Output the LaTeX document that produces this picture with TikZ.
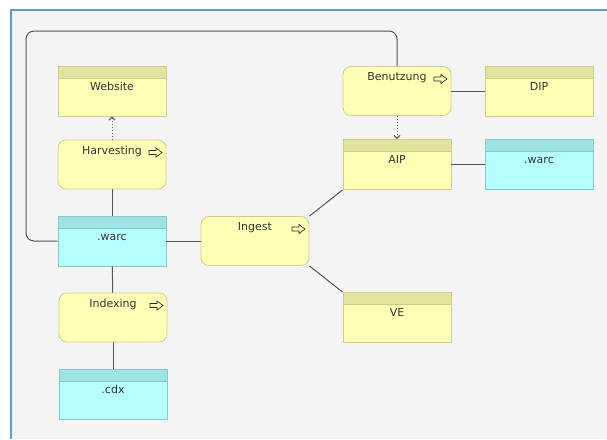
\documentclass[tikz,border=0pt]{standalone}
\usepackage{fontspec}
\setmainfont{DejaVu Sans}
\usetikzlibrary{arrows.meta}
\definecolor{bggray}{RGB}{244,244,244}
\definecolor{frameblue}{RGB}{91,155,213}
\definecolor{linegray}{RGB}{85,85,85}
\definecolor{appyellow}{RGB}{255,255,181}
\definecolor{appyellowhead}{RGB}{227,227,160}
\definecolor{appyellowline}{RGB}{205,205,140}
\definecolor{datacyan}{RGB}{181,255,255}
\definecolor{datacyanhead}{RGB}{160,227,227}
\definecolor{datacyanline}{RGB}{136,200,200}

\tikzset{
  objbox/.style n args={3}{draw=#3, fill=#1, line width=0.8pt, inner sep=0pt,
    minimum width=108pt, minimum height=50pt, text height=24pt, text depth=26pt,
    font=\fontsize{11}{13}\selectfont, text=black!80,
    path picture={
      \fill[#2] (path picture bounding box.north west) rectangle ([yshift=-12pt]path picture bounding box.north east);
      \draw[#3, line width=0.8pt] ([yshift=-12pt]path picture bounding box.north west) -- ([yshift=-12pt]path picture bounding box.north east);}},
  yellowobj/.style={objbox={appyellow}{appyellowhead}{appyellowline}},
  cyanobj/.style={objbox={datacyan}{datacyanhead}{datacyanline}},
  procbox/.style={draw=appyellowline, fill=appyellow, line width=0.8pt, inner sep=0pt, rounded corners=8pt,
    minimum width=108pt, minimum height=49pt, text height=14pt, text depth=35pt,
    font=\fontsize{11}{13}\selectfont, text=black!80,
    path picture={
      \draw[black!85, line width=0.6pt, rounded corners=0pt]
        ([xshift=-17pt,yshift=-10.5pt]path picture bounding box.north east) -- ++(7pt,0pt) -- ++(0pt,2.5pt)
        -- ++(6pt,-4.5pt) -- ++(-6pt,-4.5pt) -- ++(0pt,2.5pt) -- ++(-7pt,0pt) -- cycle;}},
  conn/.style={draw=linegray, line width=1pt},
  access/.style={draw=linegray, line width=1pt, dotted, -{Straight Barb[length=3pt,width=6pt]}}
}

\begin{document}
\begin{tikzpicture}[x=1pt, y=-1pt]
  \useasboundingbox (0,0) rectangle (607,439);
  % Background
  \fill[bggray] (10,9) rectangle (607,439);
  \draw[frameblue, line width=2pt] (11,439) -- (11,10) -- (607,10);

  % Left column
  \node[yellowobj] (website) at (112,91) {Website};
  \node[procbox] (harvest) at (112,164.5) {Harvesting};
  \node[cyanobj] (warcl) at (112,241) {.warc};
  \node[procbox] (index) at (113,317.5) {Indexing};
  \node[cyanobj] (cdx) at (113,394.5) {.cdx};

  % Ingest
  \node[procbox] (ingest) at (255,241) {Ingest};

  % Right part
  \node[procbox] (benutz) at (397,91) {Benutzung};
  \node[yellowobj] (dip) at (539,91) {DIP};
  \node[yellowobj] (aip) at (397,164.5) {AIP};
  \node[cyanobj] (warcr) at (539,164.5) {.warc};
  \node[yellowobj] (ve) at (397,317.5) {VE};

  % Connectors
  \draw[access] (harvest.north) -- (website.south);
  \draw[access] (benutz.south) -- (aip.north);
  \draw[conn] (harvest) -- (warcl);
  \draw[conn] (warcl) -- (index);
  \draw[conn] (index) -- (cdx);
  \draw[conn] (warcl) -- (ingest);
  \draw[conn] (ingest.north east) -- (aip.south west);
  \draw[conn] (ingest.south east) -- (ve.north west);
  \draw[conn] (benutz) -- (dip);
  \draw[conn] (aip) -- (warcr);

  % Loop back to Benutzung
  \coordinate (loopcorner) at (26,31);
  \draw[conn, rounded corners=8pt] (warcl.west) -| (loopcorner) -| (benutz.north);
\end{tikzpicture}
\end{document}
